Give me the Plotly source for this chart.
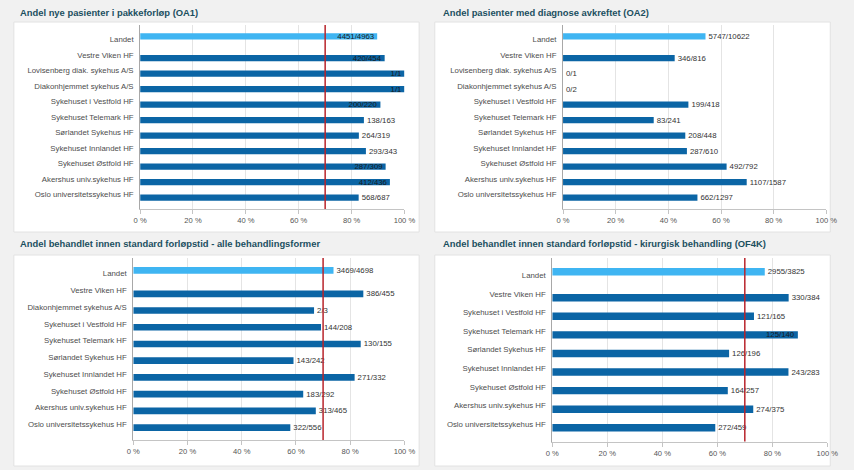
import plotly.graph_objects as go

W, H = 854, 470

# ---------------- data ----------------
oa1_title = "Andel nye pasienter i pakkeforløp (OA1)"
oa1_categories = ["Landet", "Vestre Viken HF", "Lovisenberg diak. sykehus A/S",
                  "Diakonhjemmet sykehus A/S", "Sykehuset i Vestfold HF",
                  "Sykehuset Telemark HF", "Sørlandet Sykehus HF",
                  "Sykehuset Innlandet HF", "Sykehuset Østfold HF",
                  "Akershus univ.sykehus HF", "Oslo universitetssykehus HF"]
oa1_num = [4451, 420, 1, 1, 200, 138, 264, 293, 287, 412, 568]
oa1_den = [4963, 454, 1, 1, 220, 163, 319, 343, 309, 436, 687]

oa2_title = "Andel pasienter med diagnose avkreftet (OA2)"
oa2_categories = list(oa1_categories)
oa2_num = [5747, 346, 0, 0, 199, 83, 208, 287, 492, 1107, 662]
oa2_den = [10622, 816, 1, 2, 418, 241, 448, 610, 792, 1587, 1297]

alle_title = "Andel behandlet innen standard forløpstid - alle behandlingsformer"
alle_categories = ["Landet", "Vestre Viken HF", "Diakonhjemmet sykehus A/S",
                   "Sykehuset i Vestfold HF", "Sykehuset Telemark HF",
                   "Sørlandet Sykehus HF", "Sykehuset Innlandet HF",
                   "Sykehuset Østfold HF", "Akershus univ.sykehus HF",
                   "Oslo universitetssykehus HF"]
alle_num = [3469, 386, 2, 144, 130, 143, 271, 183, 313, 322]
alle_den = [4698, 455, 3, 208, 155, 242, 332, 292, 465, 556]

of4k_title = "Andel behandlet innen standard forløpstid - kirurgisk behandling (OF4K)"
of4k_categories = ["Landet", "Vestre Viken HF", "Sykehuset i Vestfold HF",
                   "Sykehuset Telemark HF", "Sørlandet Sykehus HF",
                   "Sykehuset Innlandet HF", "Sykehuset Østfold HF",
                   "Akershus univ.sykehus HF", "Oslo universitetssykehus HF"]
of4k_num = [2955, 330, 121, 125, 126, 243, 164, 274, 272]
of4k_den = [3825, 384, 165, 140, 196, 283, 257, 375, 459]

x_tick_values = [0, 20, 40, 60, 80, 100]
x_tick_labels = ["0 %", "20 %", "40 %", "60 %", "80 %", "100 %"]
TARGET = 70

# ---------------- styling / layout ----------------
DARK = "#0b65a5"
LIGHT = "#3fb5f2"
RED = "#b8242b"
TITLE_COLOR = "#1b4f5f"
FONT = "Liberation Sans, Arial, sans-serif"
BAR_W = 0.4

panels = [
    dict(title=oa1_title, cats=oa1_categories, num=oa1_num, den=oa1_den, target=True,
         plot=(136, 406, 25, 209), box=(7, 421, 22, 232), title_pos=(11, 12)),
    dict(title=oa2_title, cats=oa2_categories, num=oa2_num, den=oa2_den, target=False,
         plot=(568, 837, 25, 209), box=(437, 841, 22, 232), title_pos=(443, 12)),
    dict(title=alle_title, cats=alle_categories, num=alle_num, den=alle_den, target=True,
         plot=(129, 406, 258, 440), box=(7, 421, 255, 466), title_pos=(11, 243)),
    dict(title=of4k_title, cats=of4k_categories, num=of4k_num, den=of4k_den, target=True,
         plot=(557, 838, 258, 441.5), box=(437, 841, 255, 466), title_pos=(443, 243)),
]

fig = go.Figure()
shapes = []
annotations = []
layout_axes = {}

for i, p in enumerate(panels):
    sfx = "" if i == 0 else str(i + 1)
    xa, ya = "x" + sfx, "y" + sfx
    pct = [100.0 * n / d for n, d in zip(p["num"], p["den"])]
    labels = [f"{n}/{d}" for n, d in zip(p["num"], p["den"])]
    pos = ["inside" if v >= 88 else "outside" for v in pct]

    common = dict(orientation="h", xaxis=xa, yaxis=ya, showlegend=False,
                  cliponaxis=False, constraintext="none", insidetextanchor="end",
                  width=BAR_W,
                  textfont=dict(family=FONT, size=7.8, color="#333333"),
                  insidetextfont=dict(family=FONT, size=7.8, color="#1a1a1a"),
                  outsidetextfont=dict(family=FONT, size=7.8, color="#333333"),
                  hoverinfo="skip")
    # "Landet" series occupies the upper slot, the HF series the lower slot
    fig.add_trace(go.Bar(x=pct[:1], y=p["cats"][:1], text=labels[:1], textposition=pos[:1],
                         offset=-BAR_W, marker=dict(color=LIGHT, line=dict(width=0)), **common))
    fig.add_trace(go.Bar(x=pct[1:], y=p["cats"][1:], text=labels[1:], textposition=pos[1:],
                         offset=0, marker=dict(color=DARK, line=dict(width=0)), **common))

    x0, x1, yt, yb = p["plot"]
    n = len(p["cats"])
    layout_axes["xaxis" + sfx] = dict(
        domain=[x0 / W, x1 / W], anchor=ya, range=[0, 100],
        tickvals=x_tick_values, ticktext=x_tick_labels,
        showgrid=True, gridcolor="#e4e4e4", gridwidth=1, zeroline=False,
        showline=True, linecolor="#c4c4c4", linewidth=1,
        ticks="outside", ticklen=4, tickcolor="#c4c4c4",
        tickfont=dict(family=FONT, size=7.6, color="#555555"), fixedrange=True)
    layout_axes["yaxis" + sfx] = dict(
        domain=[1 - yb / H, 1 - yt / H], anchor=xa, type="category",
        categoryorder="array", categoryarray=p["cats"],
        range=[n - 1 + 0.94, -0.94], showgrid=False, zeroline=False,
        showline=True, linecolor="#a8a8a8", linewidth=1, ticks="",
        ticklabelstandoff=4,
        tickfont=dict(family=FONT, size=7.8, color="#4d4d4d"), fixedrange=True)

    bx0, bx1, by0, by1 = p["box"]
    shapes.append(dict(type="rect", xref="paper", yref="paper", layer="below",
                       x0=bx0 / W, x1=bx1 / W, y0=1 - by1 / H, y1=1 - by0 / H,
                       fillcolor="white", line=dict(color="#e2e2e2", width=1)))
    if p["target"]:
        shapes.append(dict(type="line", xref=xa, yref=ya + " domain", layer="above",
                           x0=TARGET, x1=TARGET, y0=0, y1=1,
                           line=dict(color=RED, width=1.5)))
    tx, ty = p["title_pos"]
    annotations.append(dict(xref="paper", yref="paper", x=tx / W, y=1 - ty / H,
                            xanchor="left", yanchor="middle", showarrow=False,
                            text="<b>" + p["title"] + "</b>",
                            font=dict(family=FONT, size=9.4, color=TITLE_COLOR)))

fig.update_layout(
    width=W, height=H, margin=dict(l=0, r=0, t=0, b=0, pad=0),
    paper_bgcolor="#f1f1f1", plot_bgcolor="white",
    barmode="group", bargap=0.2, bargroupgap=0,
    shapes=shapes, annotations=annotations,
    font=dict(family=FONT, size=8, color="#444444"),
    **layout_axes)

fig.write_html("out.html")
